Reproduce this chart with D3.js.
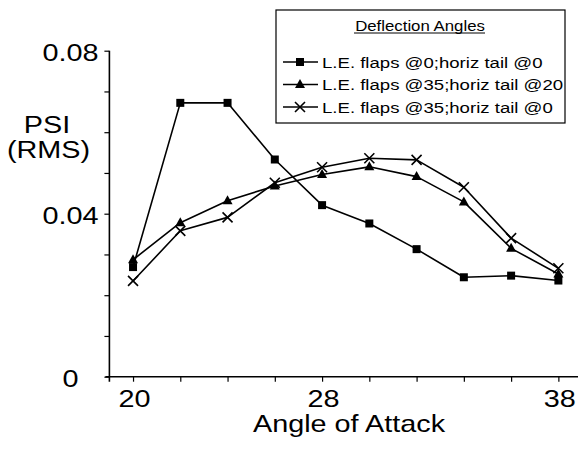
<!DOCTYPE html>
<html>
<head>
<meta charset="utf-8">
<script src="https://cdn.jsdelivr.net/npm/d3@7"></script>
<style>
  html, body { margin: 0; padding: 0; background: #fff; }
  svg { display: block; }
  text { font-family: "Liberation Sans", Arial, Helvetica, sans-serif; fill: #000; }
</style>
</head>
<body>
<script>
// Angle of attack (degrees)
const angles = [20, 22, 24, 26, 28, 30, 32, 34, 36, 38];

// PSI (RMS) for each deflection configuration
const flaps0Tail0 = [0.0269, 0.0672, 0.0672, 0.0533, 0.0421, 0.0376, 0.0313, 0.0244, 0.0248, 0.0236];
const flaps35Tail20 = [0.0287, 0.0378, 0.0432, 0.0468, 0.0496, 0.0515, 0.0491, 0.0429, 0.0315, 0.0252];
const flaps35Tail0 = [0.0235, 0.0358, 0.0391, 0.0476, 0.0514, 0.0536, 0.0532, 0.0465, 0.0340, 0.0266];

const seriesNames = [
  "L.E. flaps @0;horiz tail @0",
  "L.E. flaps @35;horiz tail @20",
  "L.E. flaps @35;horiz tail @0"
];
const markerTypes = ["square", "triangle", "cross"];

// Axis ticks and labels
const xTickValues = [20, 22, 24, 26, 28, 30, 32, 34, 36, 38];
const xLabelValues = [20, 28, 38];
const yTickValues = [0, 0.01, 0.02, 0.03, 0.04, 0.05, 0.06, 0.07, 0.08];
const yLabelValues = [0, 0.04, 0.08];

const W = 578, H = 449;
const svg = d3.select("body").append("svg").attr("width", W).attr("height", H);

const x = d3.scaleLinear().domain([19, 39]).range([109.4, 582]);
const y = d3.scaleLinear().domain([0, 0.08]).range([376.7, 50.7]);

const SX = 1.2; // horizontal text stretch

function label(txt, px, py, size, anchor, sx = SX) {
  return svg.append("text")
    .attr("transform", `translate(${px},${py}) scale(${sx},1)`)
    .attr("text-anchor", anchor)
    .attr("font-size", size)
    .text(txt);
}

const near = (arr, v) => arr.some(a => Math.abs(a - v) < 1e-9);

// Y axis
const yAxis = d3.axisLeft(y)
  .tickValues(yTickValues)
  .tickSize(5)
  .tickSizeOuter(0)
  .tickFormat(v => near(yLabelValues, v) ? (v === 0 ? "0" : d3.format(".2f")(v)) : "");
const gy = svg.append("g").attr("transform", `translate(${x(19)},0)`).call(yAxis);
gy.select(".domain").remove();
gy.selectAll(".tick line").attr("stroke", "#000").attr("stroke-width", 1.2);
gy.selectAll(".tick text")
  .attr("x", null).attr("dy", null)
  .attr("transform", `translate(-39,10) scale(${SX},1)`)
  .attr("text-anchor", "middle")
  .attr("font-size", 24)
  .attr("font-family", "Liberation Sans, Arial, sans-serif")
  .attr("fill", "#000");

// X axis
const xAxis = d3.axisBottom(x)
  .tickValues(xTickValues)
  .tickSize(5)
  .tickSizeOuter(0)
  .tickFormat(v => near(xLabelValues, v) ? String(v) : "");
const gx = svg.append("g").attr("transform", `translate(0,${y(0)})`).call(xAxis);
gx.select(".domain").remove();
gx.selectAll(".tick line").attr("stroke", "#000").attr("stroke-width", 1.2);
gx.selectAll(".tick text")
  .attr("y", null).attr("dy", null)
  .attr("transform", `translate(1,30.5) scale(${SX},1)`)
  .attr("text-anchor", "middle")
  .attr("font-size", 24)
  .attr("font-family", "Liberation Sans, Arial, sans-serif")
  .attr("fill", "#000");

// Axis lines, crossing slightly at the origin
svg.append("line")
  .attr("x1", x(19)).attr("x2", x(19))
  .attr("y1", y(0.08)).attr("y2", y(0) + 5)
  .attr("stroke", "#000").attr("stroke-width", 1.6);
svg.append("line")
  .attr("x1", x(19) - 4).attr("x2", x(39))
  .attr("y1", y(0)).attr("y2", y(0))
  .attr("stroke", "#000").attr("stroke-width", 1.6);

// Axis titles
label("PSI", 47, 133, 24, "middle");
label("(RMS)", 48.5, 158, 24, "middle");
label("Angle of Attack", 349, 432, 24, "middle");

// Marker drawing
function drawMarker(g, type, cx, cy) {
  if (type === "square") {
    g.append("rect")
      .attr("x", cx - 4).attr("y", cy - 4)
      .attr("width", 8).attr("height", 8)
      .attr("fill", "#000");
  } else if (type === "triangle") {
    g.append("path")
      .attr("d", `M${cx},${cy - 5.5}L${cx + 5},${cy + 3.5}L${cx - 5},${cy + 3.5}Z`)
      .attr("fill", "#000");
  } else {
    g.append("path")
      .attr("d", `M${cx - 5},${cy - 5}L${cx + 5},${cy + 5}M${cx - 5},${cy + 5}L${cx + 5},${cy - 5}`)
      .attr("stroke", "#000").attr("stroke-width", 1.6).attr("fill", "none");
  }
}

const series = [flaps0Tail0, flaps35Tail20, flaps35Tail0];
const line = d3.line().x(d => x(d[0])).y(d => y(d[1]));

series.forEach((vals, i) => {
  const pts = angles.map((a, j) => [a, vals[j]]);
  const g = svg.append("g");
  g.append("path")
    .attr("d", line(pts))
    .attr("fill", "none")
    .attr("stroke", "#000")
    .attr("stroke-width", 1.6)
    .attr("stroke-linejoin", "round");
  pts.forEach(p => drawMarker(g, markerTypes[i], x(p[0]), y(p[1])));
});

// Legend
const lg = svg.append("g");
lg.append("rect")
  .attr("x", 276).attr("y", 10)
  .attr("width", 289).attr("height", 113)
  .attr("fill", "#fff")
  .attr("stroke", "#000").attr("stroke-width", 1.2);

const title = label("Deflection Angles", 420, 30.5, 14, "middle");
lg.node().appendChild(title.node());
lg.append("line")
  .attr("x1", 354).attr("x2", 485)
  .attr("y1", 33).attr("y2", 33)
  .attr("stroke", "#000").attr("stroke-width", 1);

const rowY = [62, 84.5, 107];
seriesNames.forEach((name, i) => {
  const cy = rowY[i];
  lg.append("line")
    .attr("x1", 283).attr("x2", 318)
    .attr("y1", cy).attr("y2", cy)
    .attr("stroke", "#000").attr("stroke-width", 1.6);
  drawMarker(lg, markerTypes[i], 300, cy);
  const t = label(name, 322, cy + 5.5, 15, "start", 1.24);
  lg.node().appendChild(t.node());
});
</script>
</body>
</html>
